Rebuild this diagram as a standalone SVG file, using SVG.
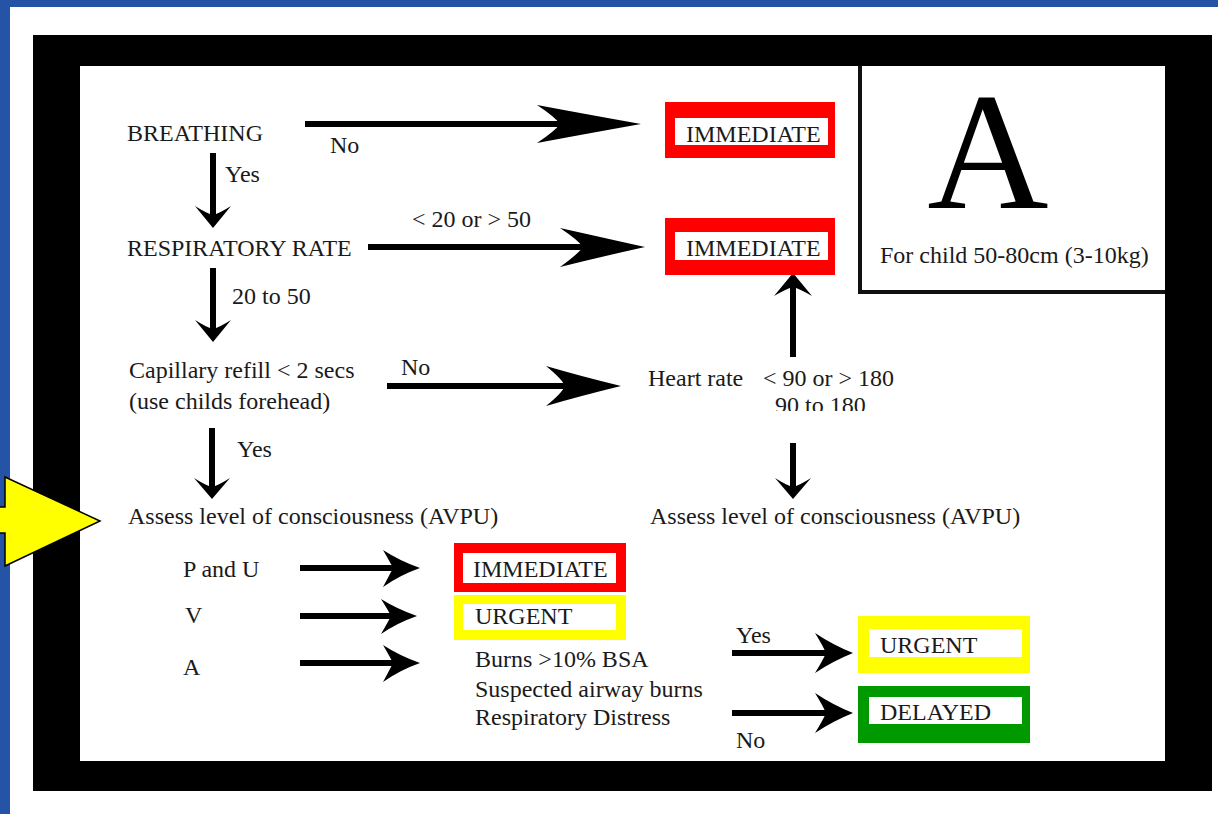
<svg xmlns="http://www.w3.org/2000/svg" width="1218" height="814" viewBox="0 0 1218 814">
<style>
.t{font-family:"Liberation Serif","Times New Roman",serif;font-size:24px;fill:#1a1a1a}
.ln{stroke:#000;stroke-width:6;fill:none}
.hd{fill:#000}
.white{fill:#fff}
.red{fill:#ff0000}
.yel{fill:#ffff00}
.grn{fill:#009900}
</style>
<defs>
<clipPath id="clipHR"><rect x="600" y="380" width="320" height="31"/></clipPath>
</defs>
<rect x="0" y="0" width="1218" height="814" fill="#fff"/>
<rect x="0" y="0" width="1218" height="7" fill="#2553a5"/>
<rect x="0" y="0" width="10" height="814" fill="#2553a5"/>
<g id="frame">
<rect x="33" y="35" width="1179" height="756" fill="#000"/>
<rect x="80" y="66" width="1085" height="695" fill="#fff"/>
</g>
<g id="label-box">
<path d="M860 66 V292 H1165" fill="none" stroke="#111" stroke-width="4"/>
<text x="988" y="208" text-anchor="middle" style="font-family:'Liberation Serif','Times New Roman',serif;font-size:168px;fill:#000">A</text>
<text class="t" x="880" y="263">For child 50-80cm (3-10kg)</text>
</g>
<g id="yellow-arrow">
<polygon points="-5,507 5,507 5,477 100,521 5,566 5,533 -5,533" fill="#ffff00" stroke="#000" stroke-width="1.5"/>
</g>
<g id="connectors">
<path class="ln" d="M305 124 H575"/>
<path class="hd" d="M641 124 Q585 114 537 105 Q555 117 560 124 Q555 131 537 143 Q585 134 641 124 Z"/>
<path class="ln" d="M368 247 H595"/>
<path class="hd" d="M645 247 Q600 237 560 228 Q578 240 583 247 Q578 254 560 267 Q600 257 645 247 Z"/>
<path class="ln" d="M387 386 H578"/>
<path class="hd" d="M621 386 Q580 376 546 366 Q562 379 565 386 Q562 393 546 406 Q580 396 621 386 Z"/>
<path class="ln" d="M213 153 V218"/>
<path class="hd" d="M213 228 L195 206 Q206 213 213 215 Q220 213 231 206 Z"/>
<path class="ln" d="M213 268 V334"/>
<path class="hd" d="M213 342 L195 320 Q206 327 213 329 Q220 327 231 320 Z"/>
<path class="ln" d="M212 428 V491"/>
<path class="hd" d="M212 499 L194 478 Q205 485 212 487 Q219 485 230 478 Z"/>
<path class="ln" d="M793 357 V281"/>
<path class="hd" d="M793 273 L774 296 Q786 289 793 287 Q800 289 812 296 Z"/>
<path class="ln" d="M793 443 V491"/>
<path class="hd" d="M793 499 L775 478 Q786 485 793 487 Q800 485 811 478 Z"/>
<path class="ln" d="M300 568 H402"/>
<path class="hd" d="M420 568 Q400 561 383 550 Q390 562 393 568 Q390 574 383 587 Q400 575 420 568 Z"/>
<path class="ln" d="M300 616 H400"/>
<path class="hd" d="M417 616 Q397 609 381 599 Q388 610 391 616 Q388 622 381 634 Q397 623 417 616 Z"/>
<path class="ln" d="M300 663 H402"/>
<path class="hd" d="M420 663 Q400 656 383 645 Q390 657 393 663 Q390 669 383 682 Q400 670 420 663 Z"/>
<path class="ln" d="M732 653 H835"/>
<path class="hd" d="M853 653 Q833 645 815 633 Q823 646 826 653 Q823 660 815 673 Q833 661 853 653 Z"/>
<path class="ln" d="M732 713 H835"/>
<path class="hd" d="M853 713 Q833 705 815 693 Q823 706 826 713 Q823 720 815 733 Q833 721 853 713 Z"/>
</g>
<g id="breathing"><text class="t" x="127" y="141">BREATHING</text></g>
<g id="lbl-no1"><text class="t" x="330" y="153">No</text></g>
<g id="lbl-yes1"><text class="t" x="225" y="182">Yes</text></g>
<g id="immediate-1">
<rect class="red" x="665" y="102" width="170" height="56"/>
<rect class="white" x="675" y="118" width="153" height="27"/>
<text class="t" x="686" y="142">IMMEDIATE</text>
</g>
<g id="resp-rate"><text class="t" x="127" y="256">RESPIRATORY RATE</text></g>
<g id="lbl-rr"><text class="t" x="412" y="227">&lt; 20 or &gt; 50</text></g>
<g id="immediate-2">
<rect class="red" x="665" y="218" width="170" height="57"/>
<rect class="white" x="675" y="232" width="153" height="28"/>
<text class="t" x="686" y="256">IMMEDIATE</text>
</g>
<g id="lbl-20-50"><text class="t" x="232" y="304">20 to 50</text></g>
<g id="capillary">
<text class="t" x="129" y="378">Capillary refill &lt; 2 secs</text>
<text class="t" x="129" y="409">(use childs forehead)</text>
</g>
<g id="lbl-no2"><text class="t" x="401" y="375">No</text></g>
<g id="heart-rate">
<text class="t" x="648" y="386">Heart rate</text>
<text class="t" x="763" y="386">&lt; 90 or &gt; 180</text>
<text class="t" x="775" y="413" clip-path="url(#clipHR)">90 to 180</text>
</g>
<g id="lbl-yes2"><text class="t" x="237" y="457">Yes</text></g>
<g id="avpu-left"><text class="t" x="128" y="524">Assess level of consciousness (AVPU)</text></g>
<g id="avpu-right"><text class="t" x="650" y="524">Assess level of consciousness (AVPU)</text></g>
<g id="p-and-u"><text class="t" x="183" y="577">P and U</text></g>
<g id="v"><text class="t" x="185" y="623">V</text></g>
<g id="a"><text class="t" x="183" y="675">A</text></g>
<g id="immediate-3">
<rect class="red" x="454" y="543" width="172" height="49"/>
<rect class="white" x="463" y="553" width="153" height="30"/>
<text class="t" x="473" y="577">IMMEDIATE</text>
</g>
<g id="urgent-1">
<rect class="yel" x="454" y="595" width="172" height="45"/>
<rect class="white" x="463" y="604" width="153" height="26"/>
<text class="t" x="475" y="624">URGENT</text>
</g>
<g id="burns">
<text class="t" x="475" y="667">Burns &gt;10% BSA</text>
<text class="t" x="475" y="697">Suspected airway burns</text>
<text class="t" x="475" y="725">Respiratory Distress</text>
</g>
<g id="lbl-yes3"><text class="t" x="736" y="643">Yes</text></g>
<g id="lbl-no3"><text class="t" x="736" y="748">No</text></g>
<g id="urgent-2">
<rect class="yel" x="858" y="616" width="172" height="57"/>
<rect class="white" x="869" y="629" width="153" height="28"/>
<text class="t" x="880" y="653">URGENT</text>
</g>
<g id="delayed">
<rect class="grn" x="858" y="686" width="172" height="57"/>
<rect class="white" x="869" y="697" width="153" height="27"/>
<text class="t" x="880" y="720">DELAYED</text>
</g>
</svg>
